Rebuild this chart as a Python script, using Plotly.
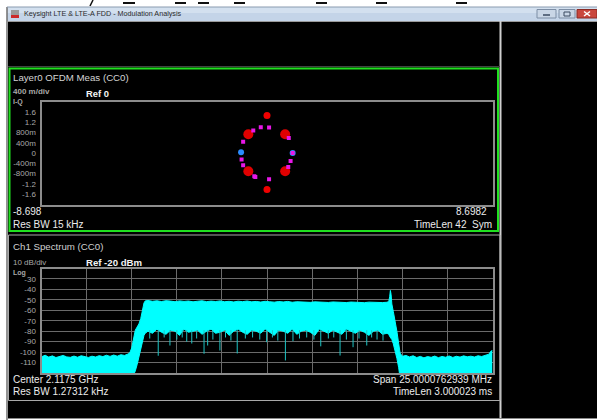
import plotly.graph_objects as go

W, H = 597, 420

# ---------------- constellation data (I / Q) ----------------
qpsk_i = [-0.72, 0.70, -0.72, 0.70]
qpsk_q = [0.73, 0.73, -0.71, -0.71]
rs_i = [0.0, 0.0]
rs_q = [1.46, -1.42]
bpsk_i = [-1.0, 0.99]
bpsk_q = [0.03, 0.0]
mag_i = [-0.53, -0.24, 0.08, 0.84, -0.92, -0.98, -0.92, -0.49, -0.45, 0.08, 0.82, 0.91, 0.99]
mag_q = [0.87, 1.0, 0.99, 0.58, 0.44, -0.25, -0.48, -0.90, -0.93, -1.02, -0.54, -0.31, 0.0]
iq_tickvals = [1.6, 1.2, 0.8, 0.4, 0, -0.4, -0.8, -1.2, -1.6]
iq_ticktext = ["1.6", "1.2", "800m", "400m", "0", "-400m", "-800m", "-1.2", "-1.6"]

# ---------------- spectrum data (MHz offset from centre, dBm) ----------------
spec_freq = [-12.5, -12.3, -12.1, -11.9, -11.7, -11.5, -11.3, -11.1, -10.9, -10.7,
             -10.5, -10.3, -10.1, -9.9, -9.7, -9.5, -9.3, -9.1, -8.9, -8.7,
             -8.5, -8.3, -8.1, -7.9, -7.7, -7.6, -7.5, -7.4, -7.3, -7.2,
             -7.1, -7.0, -6.9, -6.82, -6.75,
             -6.6, -6.35, -6.1, -5.85, -5.6, -5.35, -5.1, -4.85, -4.6, -4.35,
             -4.1, -3.85, -3.6, -3.35, -3.1, -2.85, -2.6, -2.35, -2.1, -1.85,
             -1.6, -1.35, -1.1, -0.85, -0.6, -0.35, -0.1, 0.15, 0.4, 0.65,
             0.9, 1.15, 1.4, 1.65, 1.9, 2.15, 2.4, 2.65, 2.9, 3.15,
             3.4, 3.65, 3.9, 4.15, 4.4, 4.65, 4.9, 5.15, 5.4, 5.65,
             5.9, 6.15, 6.4, 6.65,
             6.75, 6.8, 6.84, 6.88, 6.92, 7.0, 7.1, 7.2, 7.3, 7.38, 7.5,
             7.7, 7.9, 8.1, 8.3, 8.5, 8.7, 8.9, 9.1, 9.3, 9.5,
             9.7, 9.9, 10.1, 10.3, 10.5, 10.7, 10.9, 11.1, 11.3, 11.5,
             11.7, 11.9, 12.1, 12.3, 12.42, 12.5]
spec_upper = [-104.5, -103.0, -104.8, -103.6, -105.2, -104.0, -103.2, -104.6, -105.0, -103.8,
              -104.9, -103.5, -104.2, -105.1, -103.9, -104.7, -103.4, -104.3, -103.0, -104.1,
              -102.8, -103.9, -102.5, -103.2, -101.8, -100.5, -96.0, -88.0, -79.0, -76.0,
              -73.0, -68.0, -60.0, -53.0, -51.0,
              -50.6, -51.4, -50.9, -51.6, -50.8, -51.2, -51.8, -51.0, -51.5, -51.1,
              -51.9, -51.3, -50.9, -51.7, -51.2, -51.6, -51.0, -51.8, -51.4, -52.0,
              -51.3, -51.7, -51.1, -51.9, -51.5, -52.1, -51.4, -51.8, -52.2, -51.6,
              -52.0, -51.5, -52.3, -51.8, -52.1, -51.7, -52.4, -51.9, -52.2, -51.8,
              -52.5, -52.0, -52.3, -51.9, -52.6, -52.1, -52.4, -52.0, -52.7, -52.2,
              -52.5, -52.1, -52.6, -52.3,
              -51.5, -47.0, -41.0, -45.0, -54.0, -61.0, -69.0, -80.0, -92.0, -101.0, -104.0,
              -103.2, -104.6, -103.5, -105.2, -104.1, -105.5, -104.3, -105.0, -103.8, -105.3,
              -104.2, -104.9, -103.7, -105.1, -104.0, -104.8, -103.6, -104.5, -103.9, -104.7,
              -103.5, -104.2, -103.0, -102.0, -99.0, -98.5]
spec_lower = [-125] * 26 + [-124, -122, -118, -112, -104, -96, -88, -84, -82,
              -80, -82, -78, -81, -83, -79, -80, -84, -78, -81,
              -80, -79, -83, -80, -78, -82, -81, -79, -84, -80,
              -78, -81, -83, -79, -80, -82, -78, -81, -84, -79,
              -80, -82, -78, -83, -80, -79, -81, -84, -78, -80,
              -82, -79, -81, -83, -78, -80, -82, -79, -81, -84,
              -80, -79, -83, -82,
              -83, -85, -86, -87, -88, -92, -98, -106, -115, -125, -125] + [-125] * 26

dip_freq = [-6.03, -5.38, -4.45, -4.17, -3.49, -3.29, -2.61, -1.65, -0.02, 1.02, 1.44,
            2.98, 4.05, 4.77, 5.53, 6.43,
            -6.5, -5.7, -5.0, -4.7, -3.9, -3.0, -2.3, -2.0, -1.2, -0.8, -0.4, 0.3,
            0.6, 1.8, 2.2, 2.6, 3.4, 3.7, 4.4, 5.1, 5.8, 6.1]
dip_depth = [-103.5, -93.7, -90.0, -91.8, -101.6, -93.7, -98.5, -101.3, -90.5, -108.0, -89.5,
             -94.5, -103.3, -95.3, -93.7, -89.0,
             -87, -86, -88, -86, -87, -88, -86, -89, -87, -86, -88, -86,
             -89, -87, -86, -88, -87, -86, -88, -87, -86, -88]
db_tickvals = [-30, -40, -50, -60, -70, -80, -90, -100, -110]
db_ticktext = [str(v) for v in db_tickvals]

FONT = "Liberation Sans, Arial, sans-serif"

fig = go.Figure()

# constellation
fig.add_trace(go.Scatter(x=qpsk_i, y=qpsk_q, mode="markers",
                         marker=dict(color="#e00000", size=10), xaxis="x", yaxis="y", hoverinfo="skip"))
fig.add_trace(go.Scatter(x=rs_i, y=rs_q, mode="markers",
                         marker=dict(color="#f00000", size=7), xaxis="x", yaxis="y", hoverinfo="skip"))
fig.add_trace(go.Scatter(x=bpsk_i, y=bpsk_q, mode="markers",
                         marker=dict(color="#2a8cff", size=6), xaxis="x", yaxis="y", hoverinfo="skip"))
fig.add_trace(go.Scatter(x=mag_i, y=mag_q, mode="markers",
                         marker=dict(color="#e818e8", size=4, symbol="square"), xaxis="x", yaxis="y",
                         hoverinfo="skip"))

# spectrum (filled band between lower and upper trace envelopes)
fig.add_trace(go.Scatter(x=spec_freq, y=spec_lower, mode="lines", line=dict(color="#00ffff", width=1),
                         xaxis="x2", yaxis="y2", hoverinfo="skip"))
fig.add_trace(go.Scatter(x=spec_freq, y=spec_upper, mode="lines", line=dict(color="#00ffff", width=1),
                         fill="tonexty", fillcolor="#00ffff", xaxis="x2", yaxis="y2", hoverinfo="skip"))
dx, dy = [], []
for f, d in zip(dip_freq, dip_depth):
    dx += [f, f, None]
    dy += [-79, d, None]
fig.add_trace(go.Scatter(x=dx, y=dy, mode="lines", line=dict(color="#1cc4c4", width=1),
                         xaxis="x2", yaxis="y2", hoverinfo="skip", connectgaps=False))

shapes = []


def rect(x0, y0, x1, y1, fill=None, line=None, lw=0, layer="below"):
    shapes.append(dict(type="rect", xref="paper", yref="paper",
                       x0=x0 / W, x1=x1 / W, y0=1 - y1 / H, y1=1 - y0 / H,
                       fillcolor=fill if fill else "rgba(0,0,0,0)",
                       line=dict(color=line if line else "rgba(0,0,0,0)", width=lw), layer=layer))


def seg(x0, y0, x1, y1, color, lw=1, layer="below"):
    shapes.append(dict(type="line", xref="paper", yref="paper",
                       x0=x0 / W, x1=x1 / W, y0=1 - y0 / H, y1=1 - y1 / H,
                       line=dict(color=color, width=lw), layer=layer))


# top stray dashes
for a, b in [(123, 135), (175, 186), (198, 209), (234, 245), (316, 327), (376, 387), (456, 467)]:
    seg(a, 3, b, 3, "#111111", 2)
seg(90, 6, 93, 0, "#111111", 1.5)

# window frame and title bar
rect(7, 7, 597, 21, fill="#c4d4e8")
rect(7, 7, 597, 13, fill="#d3e0ef")
seg(7, 7, 7, 420, "#6f6f6f", 1.5)
seg(7, 7, 597, 7, "#8a9bb0", 1)
rect(11, 10, 19, 18, fill="#9a9a9a")
rect(11, 15, 19, 18, fill="#cc2a2a")
# window buttons
rect(537, 9.5, 556, 18, fill="#c9d6e6", line="#7d8ea5", lw=1)
seg(543, 15, 550, 15, "#3a4a60", 1.5)
rect(559, 9.5, 575, 18, fill="#c9d6e6", line="#7d8ea5", lw=1)
rect(564, 12, 570, 16, line="#3a4a60", lw=1)
rect(577, 9.5, 597, 18, fill="#c9473e", line="#8a2a24", lw=1)
seg(584, 11.5, 590, 16, "#ffffff", 1.5)
seg(584, 16, 590, 11.5, "#ffffff", 1.5)

# black application area
rect(8, 21, 597, 418, fill="#000000")
seg(8, 418.5, 597, 418.5, "#8a8a8a", 1)
seg(8, 21.5, 597, 21.5, "#9a9a9a", 1)
seg(500.5, 21, 500.5, 418, "#cfcfcf", 2)
seg(8, 66.5, 500, 66.5, "#444444", 1)

# top panel green frame
rect(9.5, 68.5, 498, 231, line="#20e020", lw=2)
# bottom panel frame
rect(8.5, 235, 500, 400.5, line="#a8a8a8", lw=1)

fig.update_layout(shapes=shapes)

ann = []


def text(x, y, s, size=10, color="#ececec", anchor="left", bold=False):
    ann.append(dict(xref="paper", yref="paper", x=x / W, y=1 - y / H, text=("<b>%s</b>" % s) if bold else s,
                    showarrow=False, xanchor=anchor, yanchor="middle",
                    font=dict(family=FONT, size=size, color=color), borderpad=0))


text(23, 14, "Keysight LTE &amp; LTE-A FDD - Modulation Analysis", 7.2, "#2b2b2b")

text(12, 77.5, "Layer0 OFDM Meas (CC0)", 9.7, "#d4d4d4")
text(12, 91.5, "400 m/div", 8.0, "#a8a8a8", bold=True)
text(85, 93.5, "Ref 0", 9.4, "#f4f4f4", bold=True)
text(12, 101.5, "I-Q", 7.0, "#a8a8a8", bold=True)
text(12, 211.5, "-8.698", 10, "#ececec")
text(487.5, 211.5, "8.6982", 10, "#ececec", anchor="right")
text(12, 224, "Res BW 15 kHz", 10, "#ececec")
text(492.5, 224, "TimeLen 42  Sym", 10, "#ececec", anchor="right")

text(12, 246.5, "Ch1 Spectrum (CC0)", 9.7, "#d0d0d0")
text(12, 262, "10 dB/div", 8.0, "#a8a8a8")
text(85, 262.5, "Ref -20 dBm", 9.6, "#f4f4f4", bold=True)
text(12, 272.5, "Log", 7.0, "#a8a8a8", bold=True)
text(12, 379.5, "Center 2.1175 GHz", 10, "#ececec")
text(12, 391, "Res BW 1.27312 kHz", 10, "#ececec")
text(492.5, 379.5, "Span 25.0000762939 MHz", 10, "#ececec", anchor="right")
text(492.5, 391, "TimeLen 3.000023 ms", 10, "#ececec", anchor="right")

fig.update_layout(annotations=ann)

axis_line = dict(showline=True, mirror=True, linecolor="#8c8c8c", linewidth=2, zeroline=False, fixedrange=True)
fig.update_layout(
    width=W, height=H, autosize=False,
    margin=dict(l=0, r=0, t=0, b=0, pad=0),
    paper_bgcolor="#ffffff", plot_bgcolor="#000000",
    showlegend=False,
    font=dict(family=FONT),
    xaxis=dict(domain=[41.5 / W, 492.5 / W], range=[-8.698, 8.6982], showgrid=False,
               showticklabels=False, ticks="", **axis_line),
    yaxis=dict(domain=[1 - 204.5 / H, 1 - 101.5 / H], range=[-2, 2], showgrid=False,
               tickmode="array", tickvals=iq_tickvals, ticktext=iq_ticktext, ticks="",
               tickfont=dict(family=FONT, size=8, color="#a8a8a8"), ticklabelstandoff=2, **axis_line),
    xaxis2=dict(domain=[41.5 / W, 492.5 / W], range=[-12.5, 12.5], tick0=0, dtick=2.5,
                showgrid=True, gridcolor="#6a6a6a", gridwidth=1, showticklabels=False, ticks="",
                anchor="y2", **axis_line),
    yaxis2=dict(domain=[1 - 373 / H, 1 - 268.5 / H], range=[-120, -20], tickmode="array",
                tickvals=db_tickvals, ticktext=db_ticktext, showgrid=True, gridcolor="#6a6a6a",
                gridwidth=1, ticks="", tickfont=dict(family=FONT, size=8, color="#a8a8a8"),
                ticklabelstandoff=2, anchor="x2", **axis_line),
)

fig.write_html("out.html", config={"displayModeBar": False, "staticPlot": True},
               post_script="document.body.style.margin='0';document.body.style.overflow='hidden';")
